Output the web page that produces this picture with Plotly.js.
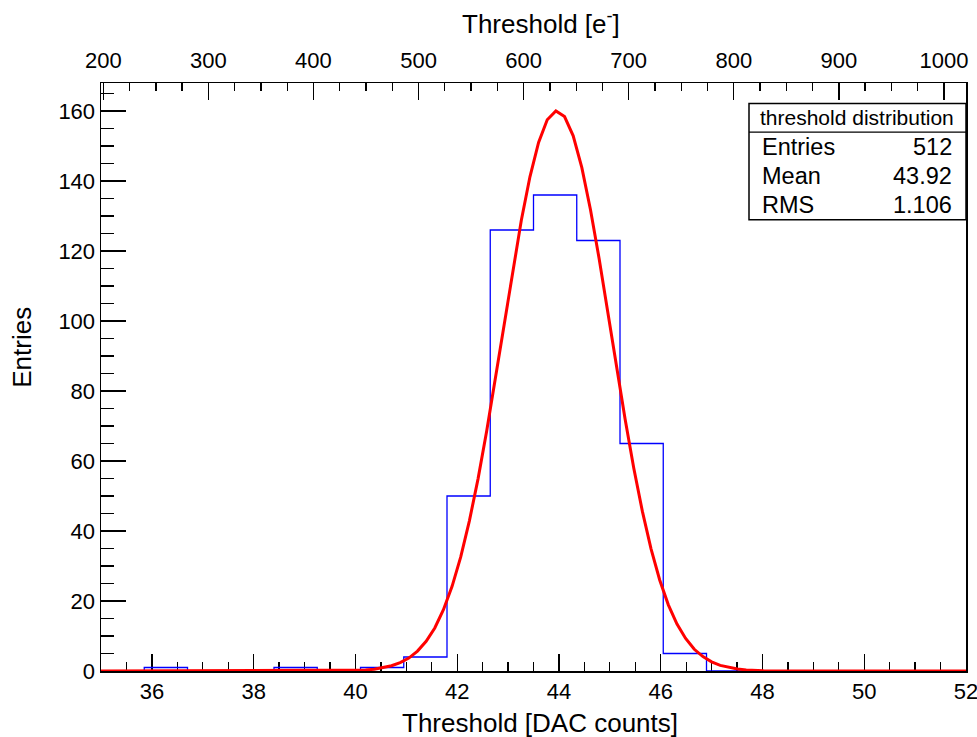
<!DOCTYPE html>
<html>
<head>
<meta charset="utf-8">
<script src="https://cdn.plot.ly/plotly-3.0.1.min.js"></script>
<style>
  html, body { margin: 0; padding: 0; background: #ffffff; }
  #chart { width: 977px; height: 737px; }
</style>
</head>
<body>
<div id="chart"></div>
<script>
// ---- data ----
// histogram: 20 bins from 35 to 52 DAC counts
const binEdges = [35, 35.85, 36.7, 37.55, 38.4, 39.25, 40.1, 40.95, 41.8, 42.65, 43.5,
                  44.35, 45.2, 46.05, 46.9, 47.75, 48.6, 49.45, 50.3, 51.15, 52];
const binCounts = [0, 1, 0, 0, 1, 0, 1, 4, 50, 126, 136, 123, 65, 5, 0, 0, 0, 0, 0, 0];

// fitted gaussian curve (red), points
const fitX = [35, 39.86, 40.03, 40.20, 40.37, 40.54, 40.71, 40.88, 41.05, 41.22, 41.39,
              41.56, 41.73, 41.90, 42.07, 42.24, 42.41, 42.58, 42.75, 42.92, 43.09,
              43.26, 43.43, 43.60, 43.77, 43.94, 44.11, 44.28, 44.45, 44.62, 44.79,
              44.96, 45.13, 45.30, 45.47, 45.64, 45.81, 45.98, 46.15, 46.32, 46.49,
              46.66, 46.83, 47.00, 47.17, 47.34, 47.51, 47.68, 47.85, 48.02, 52];
const fitY = [0, 0.1, 0.2, 0.3, 0.5, 0.9, 1.5, 2.4, 3.7, 5.7, 8.5,
              12.3, 17.5, 24.2, 32.6, 42.9, 54.9, 68.6, 83.4, 98.9, 114.3,
              128.7, 141.2, 151.0, 157.5, 160.0, 158.4, 152.9, 143.8, 131.8, 117.8,
              102.5, 87.0, 72.0, 58.0, 45.6, 34.9, 26.0, 18.9, 13.4, 9.3,
              6.2, 4.1, 2.6, 1.6, 1.0, 0.6, 0.3, 0.2, 0.1, 0];

// stats box
const statsTitle = 'threshold distribution';
const statsLabels = ['Entries', 'Mean', 'RMS'];
const statsValues = ['512', '43.92', '1.106'];

// axis titles
const xTitle = 'Threshold [DAC counts]';
const x2Title = 'Threshold [e<sup>-</sup>]';
const yTitle = 'Entries';

// ---- build the step outline of the histogram ----
const stepX = binEdges.slice();
const stepY = binCounts.concat([binCounts[binCounts.length - 1]]);

const FONT = 'Liberation Sans, Arial, Helvetica, sans-serif';

const traces = [
  {
    type: 'scatter', mode: 'lines', x: stepX, y: stepY,
    line: { color: '#0000ff', width: 1.3, shape: 'hv' },
    hoverinfo: 'skip', showlegend: false
  },
  {
    type: 'scatter', mode: 'lines', x: fitX, y: fitY,
    line: { color: '#ff0000', width: 3, shape: 'linear' },
    hoverinfo: 'skip', showlegend: false
  },
  {
    type: 'scatter', mode: 'lines', x: [null], y: [null], xaxis: 'x2', yaxis: 'y',
    hoverinfo: 'skip', showlegend: false
  }
];

// plot-area geometry in pixels (used for paper-fraction placement)
const W = 977, H = 737;
const L = 101, R = 966, T = 82.5, B = 671;
const px = (x) => (x - L) / (R - L);
const py = (y) => (B - y) / (B - T);

const axisCommon = {
  autorange: false,
  ticks: 'inside',
  tickwidth: 1.3,
  tickcolor: '#000000',
  showline: true,
  linecolor: '#000000',
  linewidth: 1.5,
  showgrid: false,
  zeroline: false,
  ticklabeloverflow: 'allow',
  tickfont: { family: FONT, size: 22, color: '#000000' },
  fixedrange: true
};

const annotations = [
  { text: xTitle, xref: 'paper', yref: 'paper', x: px(540), y: py(723),
    xanchor: 'center', yanchor: 'middle', showarrow: false,
    font: { family: FONT, size: 26, color: '#000000' } },
  { text: x2Title, xref: 'paper', yref: 'paper', x: px(541), y: py(22),
    xanchor: 'center', yanchor: 'middle', showarrow: false,
    font: { family: FONT, size: 26, color: '#000000' } },
  { text: yTitle, xref: 'paper', yref: 'paper', x: px(22), y: py(347.5),
    xanchor: 'center', yanchor: 'middle', showarrow: false, textangle: -90,
    font: { family: FONT, size: 26, color: '#000000' } },
  { text: statsTitle, xref: 'paper', yref: 'paper', x: px(857), y: py(117.5),
    xanchor: 'center', yanchor: 'middle', showarrow: false,
    font: { family: FONT, size: 21, color: '#000000' } }
];
const rowY = [146.5, 175.5, 204.5];
statsLabels.forEach((lab, i) => {
  annotations.push({ text: lab, xref: 'paper', yref: 'paper', x: px(760), y: py(rowY[i]),
    xanchor: 'left', yanchor: 'middle', showarrow: false,
    font: { family: FONT, size: 23.5, color: '#000000' } });
  annotations.push({ text: statsValues[i], xref: 'paper', yref: 'paper', x: px(954), y: py(rowY[i]),
    xanchor: 'right', yanchor: 'middle', showarrow: false,
    font: { family: FONT, size: 23.5, color: '#000000' } });
});

const layout = {
  width: W, height: H,
  margin: { l: L, r: W - R, t: T, b: H - B, pad: 0 },
  paper_bgcolor: '#ffffff',
  plot_bgcolor: '#ffffff',
  showlegend: false,
  font: { family: FONT, color: '#000000' },
  xaxis: Object.assign({}, axisCommon, {
    range: [35, 52], tickmode: 'linear', tick0: 0, dtick: 2, ticklen: 17,
    layer: 'below traces',
    minor: { tick0: 0, dtick: 0.5, ticks: 'inside', ticklen: 9, tickwidth: 1.3, tickcolor: '#000000', showgrid: false }
  }),
  xaxis2: Object.assign({}, axisCommon, {
    overlaying: 'x', side: 'top', anchor: 'y',
    range: [197.8, 1021], tickmode: 'linear', tick0: 0, dtick: 100, ticklen: 17,
    ticklabelstandoff: 5,
    minor: { tick0: 0, dtick: 25, ticks: 'inside', ticklen: 8, tickwidth: 1.3, tickcolor: '#000000', showgrid: false }
  }),
  yaxis: Object.assign({}, axisCommon, {
    range: [0, 168], tickmode: 'linear', tick0: 0, dtick: 20, ticklen: 25, mirror: true,
    minor: { tick0: 0, dtick: 5, ticks: 'inside', ticklen: 13, tickwidth: 1.3, tickcolor: '#000000', showgrid: false }
  }),
  shapes: [
    { type: 'rect', xref: 'paper', yref: 'paper', layer: 'above',
      x0: px(749), x1: px(966), y0: py(219.3), y1: py(103),
      fillcolor: '#ffffff', line: { color: '#000000', width: 1.5 } },
    { type: 'line', xref: 'paper', yref: 'paper', layer: 'above',
      x0: px(749), x1: px(966), y0: py(131.7), y1: py(131.7),
      line: { color: '#000000', width: 1.3 } }
  ],
  annotations: annotations
};

Plotly.newPlot('chart', traces, layout, { displayModeBar: false, staticPlot: true });
</script>
</body>
</html>
